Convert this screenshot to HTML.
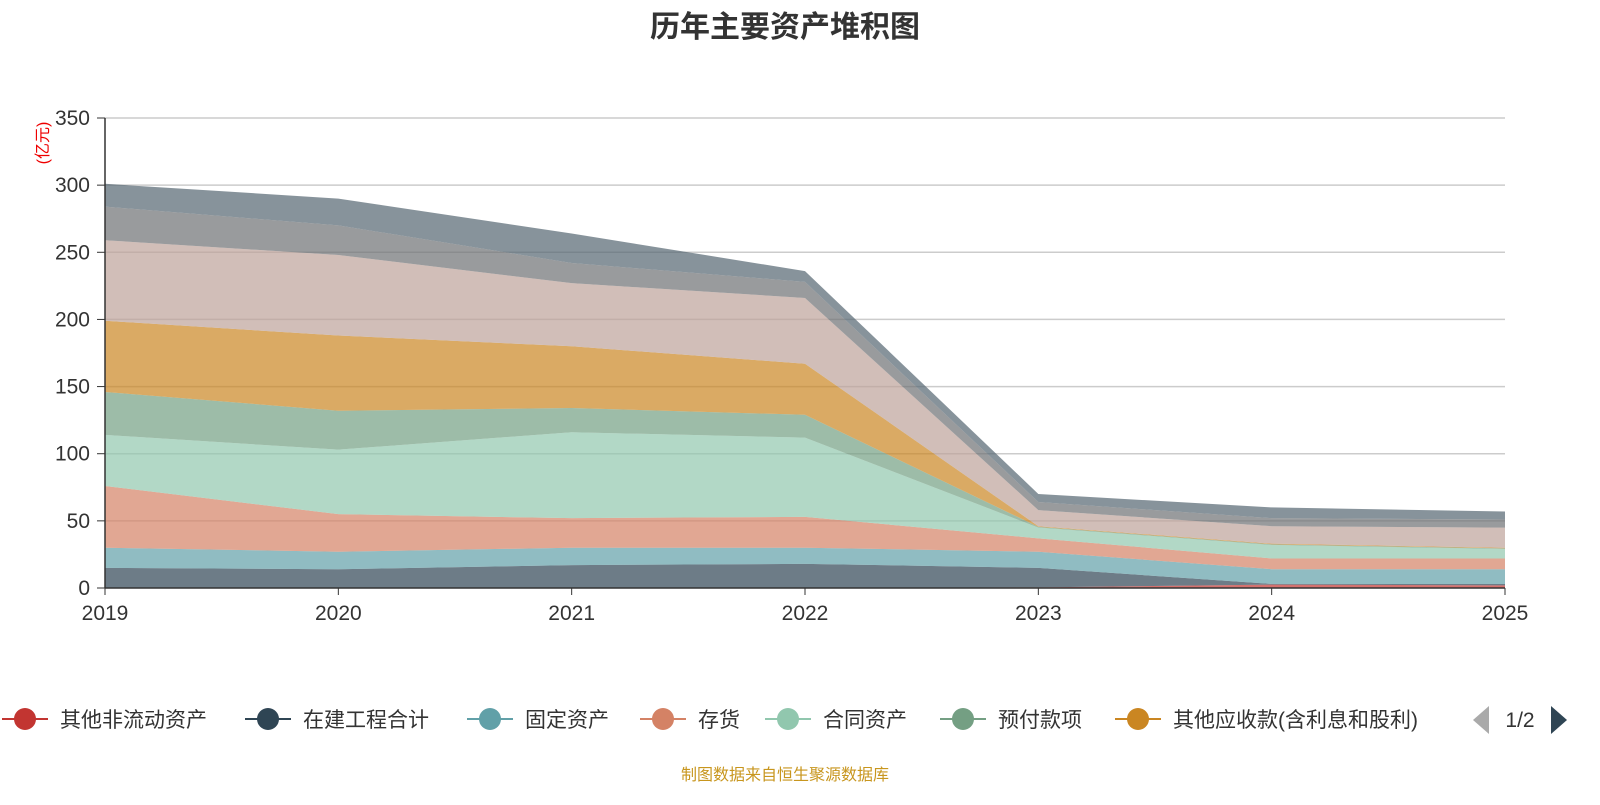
<!DOCTYPE html>
<html><head><meta charset="utf-8"><style>
body{margin:0;background:#fff;width:1600px;height:800px;overflow:hidden;font-family:"Liberation Sans","Noto Sans CJK SC",sans-serif}
</style></head><body>
<svg id="c" width="1600" height="800" xmlns="http://www.w3.org/2000/svg">
<text x="785" y="37" text-anchor="middle" font-size="30" font-weight="bold" fill="#333">历年主要资产堆积图</text>
<text transform="translate(48,143) rotate(-90)" text-anchor="middle" font-size="16" fill="#e00">(亿元)</text>
<g id="grid"></g><g id="areas"></g><g id="axes"></g><g id="legend"></g>
<text x="785" y="780" text-anchor="middle" font-size="16" fill="#c8961e">制图数据来自恒生聚源数据库</text>
</svg>
<script>
const years=["2019","2020","2021","2022","2023","2024","2025"];
const yTicks=[0,50,100,150,200,250,300,350];
const names=["其他非流动资产","在建工程合计","固定资产","存货","合同资产","预付款项","其他应收款(含利息和股利)","其他1","其他2","其他3"];
const colors=["#c23531","#2f4554","#61a0a8","#d48265","#91c7ae","#749f83","#ca8622","#bda29a","#6e7074","#546570"];
const sRed=[0,0,0,0,0.5,2.5,2];
const sDark=[15,14,17,18,14.5,0.5,1];
const sTeal=[15,13,13,12,12,11,11];
const sSalmon=[46,28,22,23,10,8,8];
const sLightGreen=[38,48,64,59,8,10,7];
const sGreen=[32,29,18,17,0.5,0.5,0.5];
const sOrange=[53,56,46,38,0.5,0.5,0.5];
const sBeige=[60,60,47,49,12,13,15];
const sGray=[25,22,15,12,6,6,6];
const sBlueGray=[17,20,22,8,6,8,6];
const series=[sRed,sDark,sTeal,sSalmon,sLightGreen,sGreen,sOrange,sBeige,sGray,sBlueGray];
const NS="http://www.w3.org/2000/svg";
const X=i=>105+i*(1400/(years.length-1));
const Y=v=>588-v*(470/350);
function mk(tag,attrs,parent){const e=document.createElementNS(NS,tag);for(const k in attrs)e.setAttribute(k,attrs[k]);parent.appendChild(e);return e;}
const grid=document.getElementById('grid'),areas=document.getElementById('areas'),axes=document.getElementById('axes'),legend=document.getElementById('legend');
yTicks.forEach(t=>{
 if(t>0){const l=mk('line',{x1:105,x2:1505,y1:Y(t),y2:Y(t),stroke:'#ccc','stroke-width':1.5},grid);
 
 }
 const tk=mk('line',{x1:97,x2:105,y1:Y(t),y2:Y(t),stroke:'#333'},axes);
 
 
 const tx=mk('text',{x:90,y:Y(t)+7,'text-anchor':'end','font-size':21,fill:'#333'},axes);tx.textContent=t;
 
 
});
let base=years.map(()=>0);
series.forEach((s,k)=>{
 const top=base.map((b,i)=>b+s[i]);
 let d='M'+top.map((v,i)=>X(i)+','+Y(v)).join('L');
 for(let i=years.length-1;i>=0;i--)d+='L'+X(i)+','+Y(base[i]);
 const p=mk('path',{d:d+'Z',fill:colors[k],'fill-opacity':0.7},areas);
 
 
 base=top;
});
const ya=mk('line',{x1:105,x2:105,y1:118,y2:588,stroke:'#333','stroke-width':1.5},axes);


const xa=mk('line',{x1:105,x2:1505,y1:588,y2:588,stroke:'#333','stroke-width':1.5},axes);


years.forEach((y,i)=>{
 const tk=mk('line',{x1:X(i),x2:X(i),y1:588,y2:595,stroke:'#333'},axes);
 
 
 const t=mk('text',{x:X(i),y:620,'text-anchor':'middle','font-size':21,fill:'#333'},axes);t.textContent=y;
 
 
});
const lx=[25,268,490,663,788,963,1138];
for(let k=0;k<7;k++){
 const g=mk('g',{},legend);
 
 
 mk('line',{x1:lx[k]-23,x2:lx[k]+23,y1:719,y2:719,stroke:colors[k],'stroke-width':2},g);
 mk('circle',{cx:lx[k],cy:719,r:11,fill:colors[k]},g);
 const t=mk('text',{x:lx[k]+35,y:727,'font-size':21,fill:'#333'},g);t.textContent=names[k];
}
const pv=mk('path',{d:'M1489,706L1489,734L1473,720Z',fill:'#aaa'},legend);


const pt=mk('text',{x:1520,y:727,'text-anchor':'middle','font-size':21,fill:'#333'},legend);pt.textContent='1/2';


const nx=mk('path',{d:'M1551,706L1551,734L1567,720Z',fill:'#2f4554'},legend);


</script>
</body></html>
